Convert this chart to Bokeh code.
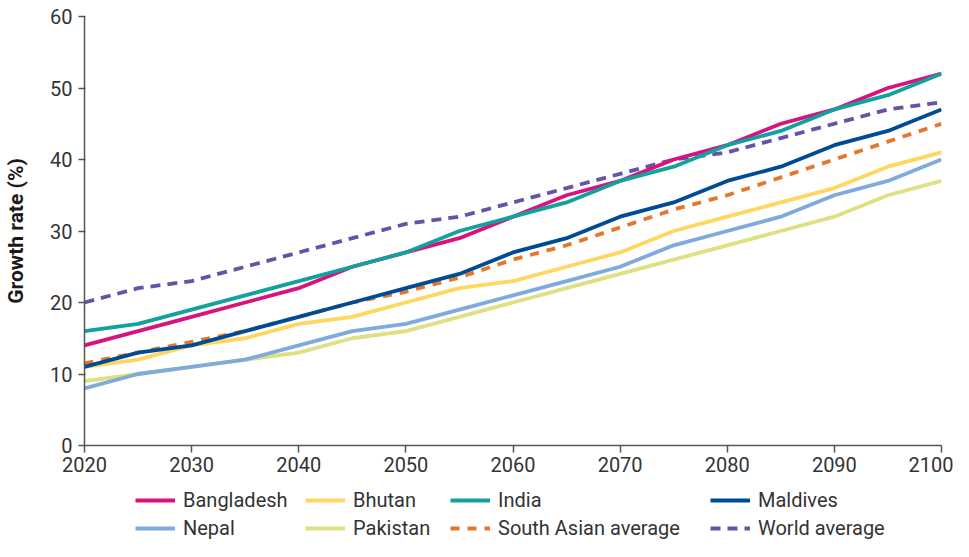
from bokeh.plotting import figure
from bokeh.layouts import column
from bokeh.models import Legend, LegendItem, FixedTicker, Range1d
from bokeh.embed import file_html
from bokeh.resources import INLINE

years = list(range(2020, 2101, 5))
bangladesh = [14, 16, 18, 20, 22, 25, 27, 29, 32, 35, 37, 40, 42, 45, 47, 50, 52]
bhutan = [11, 12, 14, 15, 17, 18, 20, 22, 23, 25, 27, 30, 32, 34, 36, 39, 41]
india = [16, 17, 19, 21, 23, 25, 27, 30, 32, 34, 37, 39, 42, 44, 47, 49, 52]
maldives = [11, 13, 14, 16, 18, 20, 22, 24, 27, 29, 32, 34, 37, 39, 42, 44, 47]
nepal = [8, 10, 11, 12, 14, 16, 17, 19, 21, 23, 25, 28, 30, 32, 35, 37, 40]
pakistan = [9, 10, 11, 12, 13, 15, 16, 18, 20, 22, 24, 26, 28, 30, 32, 35, 37]
south_asia = [11.5, 13, 14.5, 16, 18, 20, 21.5, 23.5, 26, 28, 30.5, 33, 35, 37.5, 40, 42.5, 45]
world = [20, 22, 23, 25, 27, 29, 31, 32, 34, 36, 38, 40, 41, 43, 45, 47, 48]

x_ticks = list(range(2020, 2101, 10))
y_ticks = list(range(0, 61, 10))

FONT = "Roboto"

series = [
    ("Bangladesh", bangladesh, "#d6137f", None),
    ("Bhutan", bhutan, "#ffd660", None),
    ("India", india, "#12a19f", None),
    ("Maldives", maldives, "#004b95", None),
    ("Nepal", nepal, "#7eaadc", None),
    ("Pakistan", pakistan, "#dee082", None),
    ("South Asian average", south_asia, "#e5762a", "9 8"),
    ("World average", world, "#6553a8", "10 7"),
]
info = {name: (vals, color, dash) for name, vals, color, dash in series}
draw_order = ["Pakistan", "Nepal", "Bhutan", "South Asian average", "Maldives",
              "World average", "Bangladesh", "India"]


def style(name):
    vals, color, dash = info[name]
    kw = dict(line_color=color, line_width=3.8)
    if dash:
        kw["line_dash"] = dash
    return vals, kw


# ---- main chart ----
p = figure(width=953, height=480, output_backend="svg", toolbar_location=None,
           x_range=Range1d(2020, 2100), y_range=Range1d(0, 60),
           min_border_left=84, min_border_right=12, min_border_top=16, min_border_bottom=35)
p.outline_line_color = None
p.xgrid.visible = False
p.ygrid.visible = False

for name in draw_order:
    vals, kw = style(name)
    p.line(years, vals, **kw)

for ax in (p.xaxis[0], p.yaxis[0]):
    ax.axis_line_color = "#555555"
    ax.axis_line_width = 1.5
    ax.major_tick_line_color = "#555555"
    ax.major_tick_line_width = 1.5
    ax.minor_tick_line_color = None
    ax.major_label_text_font = FONT
    ax.major_label_text_font_size = "20px"
    ax.major_label_text_color = "#333333"

p.xaxis.ticker = FixedTicker(ticks=x_ticks)
p.yaxis.ticker = FixedTicker(ticks=y_ticks)
p.xaxis.major_tick_in = 0
p.xaxis.major_tick_out = 7
p.xaxis.major_label_standoff = 4
p.yaxis.major_tick_in = 1
p.yaxis.major_tick_out = 6
p.yaxis.major_label_standoff = 6
p.yaxis.axis_label = "Growth rate (%)"
p.yaxis.axis_label_text_font = FONT
p.yaxis.axis_label_text_font_style = "bold"
p.yaxis.axis_label_text_font_size = "21px"
p.yaxis.axis_label_text_color = "#1a1a1a"
p.yaxis.axis_label_standoff = 19

# ---- legend strip (its lines sit outside its visible range) ----
q = figure(width=953, height=61, output_backend="svg", toolbar_location=None,
           x_range=Range1d(0, 1), y_range=Range1d(1000, 1001),
           x_axis_location=None, y_axis_location=None,
           min_border_left=0, min_border_right=0, min_border_top=0, min_border_bottom=0)
q.outline_line_color = None
q.xgrid.visible = False
q.ygrid.visible = False
rs = {}
for name in draw_order:
    vals, kw = style(name)
    rs[name] = q.line(years, vals, **kw)

columns = [("Bangladesh", "Nepal"), ("Bhutan", "Pakistan"),
           ("India", "South Asian average"), ("Maldives", "World average")]
col_x = [51, 221, 366, 626]   # relative to the aligned frame left edge
for (a, b), cx in zip(columns, col_x):
    lg = Legend(items=[LegendItem(label=a, renderers=[rs[a]]),
                       LegendItem(label=b, renderers=[rs[b]])],
                orientation="vertical",
                label_text_font=FONT, label_text_font_size="20px",
                label_text_color="#333333", glyph_width=40, glyph_height=24,
                label_height=24, label_standoff=8, spacing=4,
                border_line_color=None, background_fill_alpha=0,
                margin=0, padding=0, location=(cx, 1))
    q.add_layout(lg, "center")

layout = column(p, q, spacing=0)
open("out.html", "w").write(file_html(layout, INLINE))
